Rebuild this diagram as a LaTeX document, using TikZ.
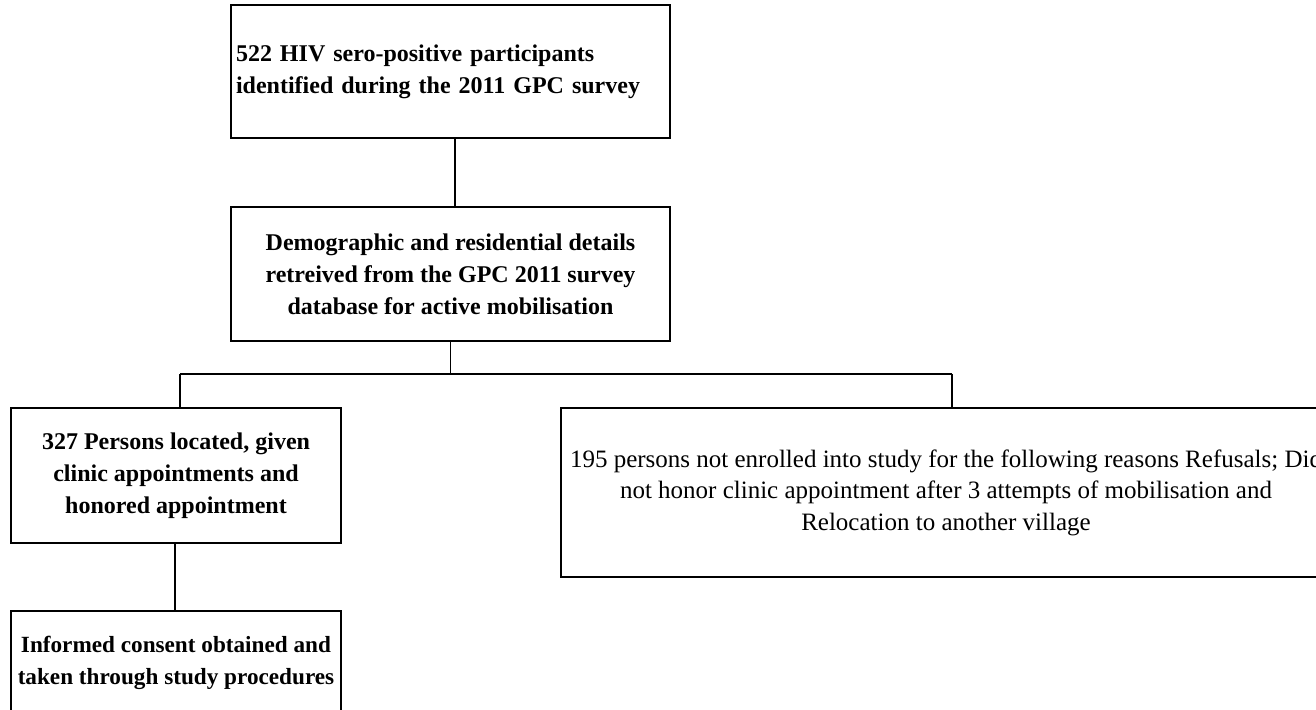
\documentclass[tikz,border=0pt]{standalone}
\usepackage{fontspec}
\setmainfont{Liberation Serif}
\begin{document}
\begin{tikzpicture}[x=0.5pt,y=-0.5pt]
      \tikzstyle{box}=[
        draw,
        line width=1pt,
        inner sep=2.5pt,
        anchor=center,
        align=center,
        font=\fontsize{12}{16}\selectfont\bfseries
      ]
      \tikzstyle{line} = [line width=1pt, draw=black]
      \tikzstyle{thinline} = [line width=0.5pt, draw=black]

      \clip (0,0) rectangle (1316,710);

      \node[box, minimum width=219.5pt, minimum height=66.5pt, text width=214.5pt, align=left]
        (survey) at (450.5,71.5) {522 HIV sero-positive participants\\identified during the 2011 GPC survey};
      \node[box, minimum width=219.5pt, minimum height=67pt]
        (details) at (450.5,274) {Demographic and residential details\\retreived from the GPC 2011 survey\\database for active mobilisation};
      \node[box, minimum width=165pt, minimum height=67.5pt]
        (located) at (176,475.5) {327 Persons located, given\\clinic appointments and\\honored appointment};
      \node[box, minimum width=165pt, minimum height=52pt, inner xsep=1pt, font=\fontsize{11.6}{16}\selectfont\bfseries]
        (consent) at (176,663) {Informed consent obtained and\\taken through study procedures};
      \node[box, minimum width=385pt, minimum height=84.5pt, font=\fontsize{12.5}{15.75}\selectfont]
        (excluded) at (946,492.5) {195 persons not enrolled into study for the following reasons Refusals; Did\\not honor clinic appointment after 3 attempts of mobilisation and\\Relocation to another village};

      \coordinate (barleft)  at (180,374);
      \coordinate (barright) at (952,374);

      \draw[line] ([xshift=2.25pt]survey.south) -- ([xshift=2.25pt]details.north);
      \draw[thinline] (details.south) -- (details.south |- barleft);
      \draw[line] (barleft) -- (barright);
      \draw[line] (barleft) -- (barleft |- located.north);
      \draw[line] (barright) -- (barright |- excluded.north);
      \draw[line] ([xshift=-0.5pt]located.south) -- ([xshift=-0.5pt]consent.north);
    \end{tikzpicture}
\end{document}
